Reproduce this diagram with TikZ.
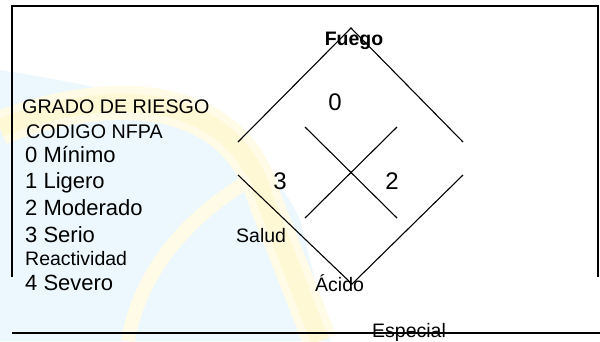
\documentclass[tikz,border=0pt]{standalone}
\usepackage{fontspec}
\setmainfont{Liberation Sans}
\definecolor{wmyellow}{RGB}{255,248,212}
\definecolor{wmyellowlt}{RGB}{255,251,230}
\definecolor{wmblue}{RGB}{236,248,253}
\begin{document}
\begin{tikzpicture}[x=1pt,y=-1pt,
  ln/.style={line width=1.1pt, black},
  big/.style={font=\fontsize{22}{24}\selectfont, inner sep=0pt, anchor=base west},
  head/.style={font=\fontsize{19.7}{22}\selectfont, inner sep=0pt, anchor=base west},
  small/.style={font=\fontsize{19.5}{22}\selectfont, inner sep=0pt, anchor=base west},
  digit/.style={font=\fontsize{24}{26}\selectfont, inner sep=0pt, anchor=base}]
\useasboundingbox (0,0) rectangle (600,341);
\fill[white] (0,0) rectangle (600,341);
% faint watermark
\fill[wmblue] (0,70) .. controls (120,90) and (250,110) .. (300,220) -- (330,341) -- (0,341) -- cycle;
\draw[wmyellowlt, line width=34pt] (0,128) .. controls (110,85) and (235,90) .. (265,200) -- (320,341);
\draw[wmyellow, line width=18pt] (0,128) .. controls (110,85) and (235,90) .. (265,200) -- (320,341);
\draw[wmyellowlt, line width=14pt] (128,341) .. controls (140,270) and (190,215) .. (250,180);
% frame
\coordinate (fbl) at (12,277);
\coordinate (ftl) at (12,6);
\coordinate (ftr) at (598,6);
\coordinate (fbr) at (598,277);
\draw[ln] (fbl) -- (ftl) -- (ftr) -- (fbr);
\coordinate (bl) at (12,333);
\coordinate (br) at (600,333);
\draw[ln] (bl) -- (br);
% diamond
\coordinate (dtop) at (351,28);
\coordinate (dul) at (238,142);
\coordinate (dur) at (463,142);
\coordinate (dll) at (238,175);
\coordinate (dlr) at (463,175);
\coordinate (dbot) at (352,284);
\draw[ln] (dul) -- (dtop) -- (dur);
\draw[ln] (dll) -- (dbot) -- (dlr);
\coordinate (xa) at (305,127);
\coordinate (xb) at (397,218);
\coordinate (xc) at (397,127);
\coordinate (xd) at (305,218);
\draw[ln] (xa) -- (xb);
\draw[ln] (xc) -- (xd);
% texts
\node[small, font=\fontsize{19.5}{22}\selectfont\bfseries, anchor=base] (fuego) at (354,45) {Fuego};
\node[digit] (n0) at (335,110) {0};
\node[digit] (n3) at (280,189) {3};
\node[digit] (n2) at (392,189) {2};
\node[head] (grado) at (22,113) {GRADO DE RIESGO};
\node[head] (codigo) at (26,138) {CODIGO NFPA};
\node[big] (l0) at (25,162) {0 Mínimo};
\node[big] (l1) at (25,188) {1 Ligero};
\node[big] (l2) at (25,215) {2 Moderado};
\node[big] (l3) at (25,242) {3 Serio};
\node[small] (react) at (25,265) {Reactividad};
\node[big] (l4) at (25,290) {4 Severo};
\node[small] (salud) at (236,242) {Salud};
\node[small] (acido) at (315,291) {Ácido};
\node[small] (esp) at (372,337) {Especial};
\end{tikzpicture}
\end{document}
